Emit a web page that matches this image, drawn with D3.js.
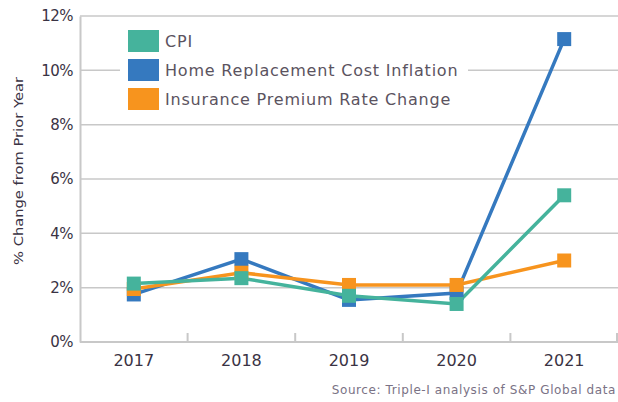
<!DOCTYPE html>
<html>
<head>
<meta charset="utf-8">
<script src="https://cdn.jsdelivr.net/npm/d3@7"></script>
<style>
  body { margin: 0; background: #fff; }
  text { font-family: "DejaVu Sans", sans-serif; }
</style>
</head>
<body>
<div id="chart"></div>
<script>
// Data
var years = ["2017", "2018", "2019", "2020", "2021"];
var cpi = [2.15, 2.35, 1.7, 1.4, 5.4];
var homeCost = [1.75, 3.05, 1.55, 1.8, 11.15];
var premium = [1.95, 2.55, 2.1, 2.1, 3.0];
var yTicks = [0, 2, 4, 6, 8, 10, 12];

var seriesNames = ["CPI", "Home Replacement Cost Inflation", "Insurance Premium Rate Change"];
var seriesColors = ["#45b39c", "#3579bf", "#f7941e"];

// svg size and margins
var svgWidth = 618;
var svgHeight = 402;
var margin = { top: 16, right: 0, bottom: 60, left: 80 };
var width = svgWidth - margin.left - margin.right;
var height = svgHeight - margin.top - margin.bottom;

var svg = d3.select("#chart")
  .append("svg")
  .attr("width", svgWidth)
  .attr("height", svgHeight);

var chartGroup = svg.append("g")
  .attr("transform", `translate(${margin.left}, ${margin.top})`);

// scales
var xBand = d3.scaleBand().domain(years).range([0, width]);
var yLinearScale = d3.scaleLinear().domain([0, 12]).range([height, 0]);
var xCenter = d => xBand(d) + xBand.bandwidth() / 2;

// gridlines
chartGroup.append("g")
  .selectAll("line")
  .data(yTicks.slice(1))
  .enter()
  .append("line")
  .attr("x1", 0)
  .attr("x2", width)
  .attr("y1", d => yLinearScale(d))
  .attr("y2", d => yLinearScale(d))
  .attr("stroke", "#c8c8c8")
  .attr("stroke-width", 1.5);

// left axis
var leftAxis = d3.axisLeft(yLinearScale)
  .tickValues(yTicks)
  .tickSize(0)
  .tickPadding(7)
  .tickFormat(d => d + "%");
var yAxis = chartGroup.append("g").call(leftAxis);
yAxis.select(".domain").attr("stroke", "#c8c8c8").attr("stroke-width", 2);
yAxis.selectAll("text")
  .attr("fill", "#3a3344")
  .style("font-size", "15px")
  .style("letter-spacing", "-0.5px");

// bottom axis line + ticks between categories
chartGroup.append("line")
  .attr("x1", 0).attr("x2", width)
  .attr("y1", height).attr("y2", height)
  .attr("stroke", "#c8c8c8")
  .attr("stroke-width", 2);
chartGroup.append("g")
  .selectAll("line")
  .data(years.slice(1))
  .enter()
  .append("line")
  .attr("x1", d => xBand(d))
  .attr("x2", d => xBand(d))
  .attr("y1", height)
  .attr("y2", height - 9)
  .attr("stroke", "#c8c8c8")
  .attr("stroke-width", 2);
chartGroup.append("line")
  .attr("x1", width - 1).attr("x2", width - 1)
  .attr("y1", height).attr("y2", height - 9)
  .attr("stroke", "#c8c8c8")
  .attr("stroke-width", 2);

// x labels
chartGroup.append("g")
  .selectAll("text")
  .data(years)
  .enter()
  .append("text")
  .attr("x", d => xCenter(d))
  .attr("y", height + 24)
  .attr("text-anchor", "middle")
  .attr("fill", "#3a3344")
  .style("font-size", "16px")
  .style("letter-spacing", "0px")
  .text(d => d);

// y axis title
chartGroup.append("text")
  .attr("transform", "rotate(-90)")
  .attr("x", -(height / 2) + 8)
  .attr("y", -margin.left + 23)
  .attr("text-anchor", "middle")
  .attr("fill", "#3a3344")
  .attr("textLength", 188)
  .attr("lengthAdjust", "spacingAndGlyphs")
  .style("font-size", "13px")
  .text("% Change from Prior Year");

// legend box (covers gridline)
var legend = chartGroup.append("g").attr("transform", "translate(40, 10)");
legend.append("rect")
  .attr("x", 0).attr("y", 0)
  .attr("width", 348).attr("height", 92)
  .attr("fill", "#fff");
seriesNames.forEach((name, i) => {
  legend.append("rect")
    .attr("x", 8)
    .attr("y", 4 + i * 29)
    .attr("width", 31)
    .attr("height", 22)
    .attr("fill", seriesColors[i]);
  legend.append("text")
    .attr("x", 45)
    .attr("y", 21 + i * 29)
    .attr("fill", "#5b5360")
    .style("font-size", "16px")
    .style("letter-spacing", "0.8px")
    .text(name);
});

// lines and markers, drawn blue, orange, green
var allSeries = [cpi, homeCost, premium];
var drawOrder = [1, 2, 0];
var line = d3.line()
  .x((d, i) => xCenter(years[i]))
  .y(d => yLinearScale(d));

drawOrder.forEach(k => {
  chartGroup.append("path")
    .datum(allSeries[k])
    .attr("d", line)
    .attr("fill", "none")
    .attr("stroke", seriesColors[k])
    .attr("stroke-width", 3.5);
});
drawOrder.forEach(k => {
  chartGroup.append("g")
    .selectAll("rect")
    .data(allSeries[k])
    .enter()
    .append("rect")
    .attr("x", (d, i) => xCenter(years[i]) - 7)
    .attr("y", d => yLinearScale(d) - 7)
    .attr("width", 14)
    .attr("height", 14)
    .attr("fill", seriesColors[k]);
});

// source note
svg.append("text")
  .attr("x", 616)
  .attr("y", 394)
  .attr("text-anchor", "end")
  .attr("fill", "#7a7285")
  .style("font-size", "12px")
  .style("letter-spacing", "0.6px")
  .text("Source: Triple-I analysis of S&P Global data");
</script>
</body>
</html>
